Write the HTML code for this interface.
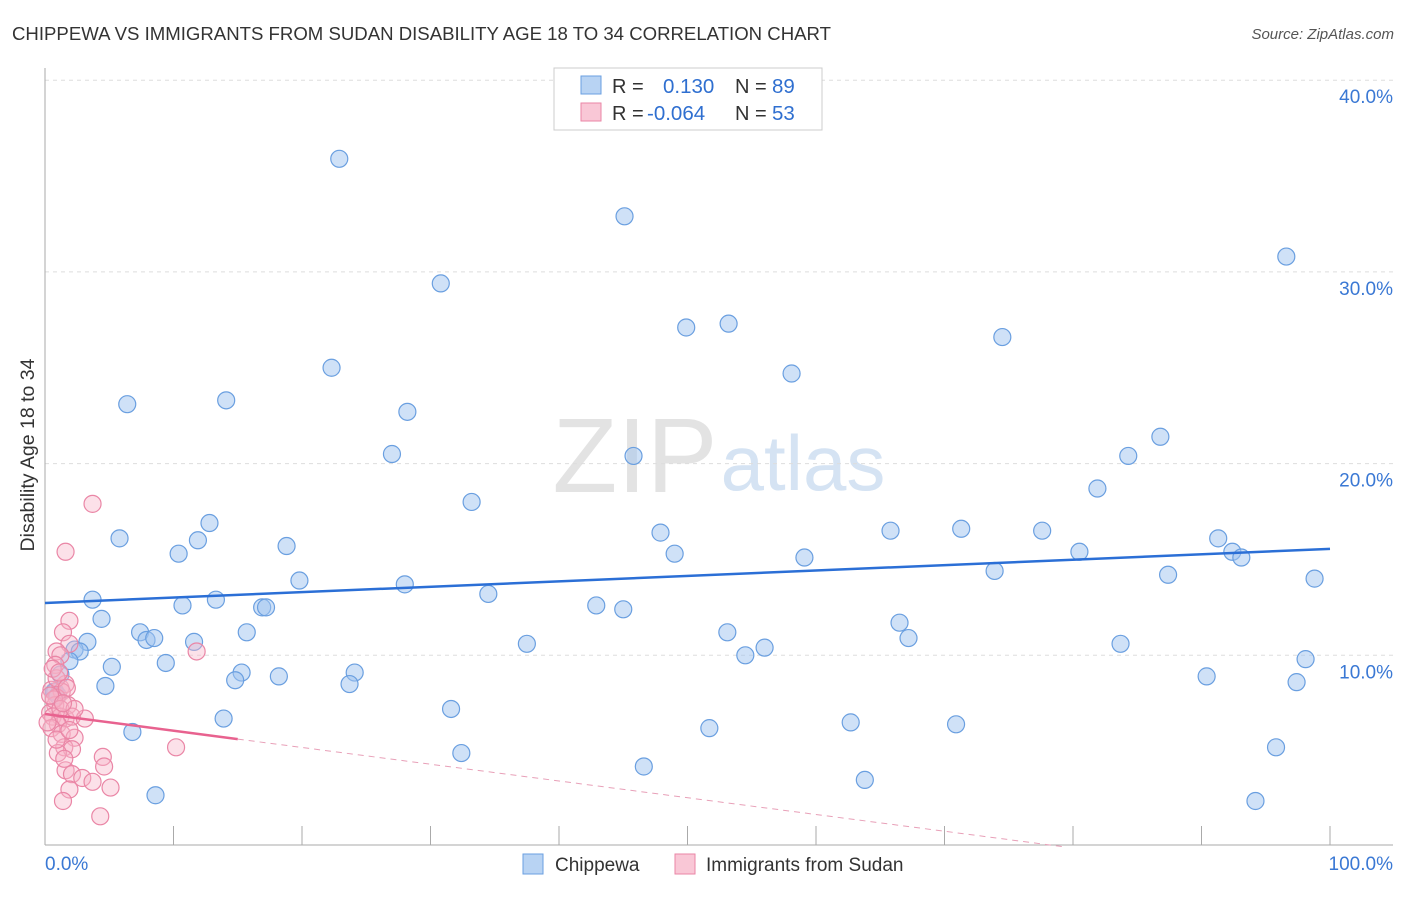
<!DOCTYPE html>
<html><head><meta charset="utf-8"><style>
body{margin:0;background:#fff;font-family:"Liberation Sans",sans-serif;}
svg text{font-family:"Liberation Sans",sans-serif;}
</style></head><body>
<svg id="c" width="1406" height="892">
<text x="12" y="40" font-size="18.6" fill="#333">CHIPPEWA VS IMMIGRANTS FROM SUDAN DISABILITY AGE 18 TO 34 CORRELATION CHART</text>
<text x="1394" y="39" font-size="15" fill="#555" font-style="italic" text-anchor="end">Source: ZipAtlas.com</text>
<text x="34" y="455" font-size="19.5" fill="#333" text-anchor="middle" transform="rotate(-90 34 455)">Disability Age 18 to 34</text>
<g><text x="635" y="492" font-size="106" fill="#e3e3e3" font-family="Liberation Serif" text-anchor="middle">ZIP</text><text x="803" y="490" font-size="78" fill="#d5e3f3" text-anchor="middle">atlas</text></g>
<g id="grid"></g><g id="axes"></g><g id="pts"></g><g id="lines"></g>
<g>
<rect x="554" y="68" width="268" height="62" fill="#fff" stroke="#ccc"/>
<rect x="581" y="76" width="20" height="18" fill="#b8d3f3" stroke="#6a9fe0"/>
<rect x="581" y="103" width="20" height="18" fill="#f9c7d6" stroke="#ea86a6"/>
<text x="612" y="93" font-size="20" fill="#333">R = </text><text x="663" y="93" font-size="20.5" fill="#2f6fd0">0.130</text>
<text x="735" y="93" font-size="20" fill="#333">N = </text><text x="772" y="93" font-size="20.5" fill="#2f6fd0">89</text>
<text x="612" y="120" font-size="20" fill="#333">R = </text><text x="647" y="120" font-size="20.5" fill="#2f6fd0">-0.064</text>
<text x="735" y="120" font-size="20" fill="#333">N = </text><text x="772" y="120" font-size="20.5" fill="#2f6fd0">53</text>
</g>
<g>
<rect x="523" y="854" width="20" height="20" fill="#b8d3f3" stroke="#6a9fe0"/>
<text x="555" y="871" font-size="19" fill="#333">Chippewa</text>
<rect x="675" y="854" width="20" height="20" fill="#f9c7d6" stroke="#ea86a6"/>
<text x="706" y="871" font-size="19" fill="#333">Immigrants from Sudan</text>
</g>
</svg>
<script>
const yTicks=[10,20,30,40];
const blueX=[22.9,45.1,96.6,30.8,49.9,53.2,74.5,22.3,58.1,6.4,14.1,28.2,27,45.8,86.8,84.3,81.9,33.2,12.8,5.8,11.9,10.4,18.8,47.9,65.8,71.3,77.6,91.3,92.4,93.1,49,59.1,80.5,19.8,28,87.4,73.9,98.8,3.7,13.3,34.5,42.9,45,10.7,16.9,17.2,4.4,7.4,7.9,8.5,11.6,15.7,53.1,66.5,67.2,3.3,2.3,2.7,37.5,83.7,54.5,56,98.1,1.9,5.2,9.4,1.2,15.3,24.1,14.8,18.2,23.7,4.7,90.4,97.4,0.8,13.9,31.6,62.7,51.7,70.9,6.8,32.4,46.6,63.8,95.8,8.6,94.2,0.7,1];
const blueY=[35.9,32.9,30.8,29.4,27.1,27.3,26.6,25,24.7,23.1,23.3,22.7,20.5,20.4,21.4,20.4,18.7,18,16.9,16.1,16,15.3,15.7,16.4,16.5,16.6,16.5,16.1,15.4,15.1,15.3,15.1,15.4,13.9,13.7,14.2,14.4,14,12.9,12.9,13.2,12.6,12.4,12.6,12.5,12.5,11.9,11.2,10.8,10.9,10.7,11.2,11.2,11.7,10.9,10.7,10.3,10.2,10.6,10.6,10.0,10.4,9.8,9.7,9.4,9.6,9.0,9.1,9.1,8.7,8.9,8.5,8.4,8.9,8.6,8.1,6.7,7.2,6.5,6.2,6.4,6,4.9,4.2,3.5,5.2,2.7,2.4,8.1,7.9];
const pinkX=[3.7,1.6,1.9,1.4,1.9,0.9,1.2,11.8,0.8,1.2,1.6,0.5,1.3,0.9,1.8,0.8,0.4,0.6,1.2,1.6,2.1,3.1,1,0.5,1.3,2.3,1.5,2.1,1,10.2,4.5,4.6,1.6,2.1,2.9,3.7,1.9,5.1,1.4,4.3,0.7,0.9,1.2,0.4,0.9,0.2,1.9,1.5,0.6,2.3,1.1,1.7,1.4];
const pinkY=[17.9,15.4,11.8,11.2,10.6,10.2,10.0,10.2,9.5,8.3,8.5,8.2,8.1,7.8,7.4,7.4,7.0,6.8,6.8,6.7,6.8,6.7,6.4,6.2,5.9,5.7,5.2,5.1,4.9,5.2,4.7,4.2,4.0,3.8,3.6,3.4,3,3.1,2.4,1.6,7.7,8.8,7.2,7.9,5.6,6.5,6.1,4.6,9.3,7.2,9.1,8.3,7.5];
const blueTrend=[12.73,15.55];
const pinkTrend=[6.94,-1.8];
const NS='http://www.w3.org/2000/svg';
const X=v=>45+v*12.85, Y=v=>847-v*19.17;
function mk(p,t,a){const e=document.createElementNS(NS,t);for(const k in a)e.setAttribute(k,a[k]);p.appendChild(e);return e;}
const grid=document.getElementById('grid'),axes=document.getElementById('axes');
yTicks.forEach(t=>{const l=mk(grid,'line',{x1:45,x2:1393,y1:Y(t),y2:Y(t),stroke:'#ddd','stroke-dasharray':'4,4'});


const tx=mk(axes,'text',{x:1393,y:Y(t)+23,'font-size':19,fill:'#3a78d4','text-anchor':'end'});tx.textContent=t.toFixed(1)+'%';

});
mk(axes,'line',{x1:45,x2:45,y1:68,y2:845,stroke:'#aaa'});
mk(axes,'line',{x1:45,x2:1393,y1:845,y2:845,stroke:'#aaa'});
for(let i=1;i<=10;i++){mk(axes,'line',{x1:X(i*10),x2:X(i*10),y1:826,y2:845,stroke:'#aaa'});}
const x0=mk(axes,'text',{x:45,y:870,'font-size':19,fill:'#3a78d4'});x0.textContent='0.0%';


const x1=mk(axes,'text',{x:1393,y:870,'font-size':19,fill:'#3a78d4','text-anchor':'end'});x1.textContent='100.0%';


const pts=document.getElementById('pts');
blueX.forEach((v,i)=>{const c=mk(pts,'circle',{cx:X(v),cy:Y(blueY[i]),r:8.5,fill:'rgba(160,195,240,0.5)',stroke:'#6a9fe0','stroke-width':1.2});

});
pinkX.forEach((v,i)=>{const c=mk(pts,'circle',{cx:X(v),cy:Y(pinkY[i]),r:8.5,fill:'rgba(248,180,200,0.4)',stroke:'#ea86a6','stroke-width':1.2});

});
const lines=document.getElementById('lines');
const bl=mk(lines,'line',{x1:X(0),y1:Y(blueTrend[0]),x2:X(100),y2:Y(blueTrend[1]),stroke:'#2b6fd6','stroke-width':2.5});


const ps=(pinkTrend[1]-pinkTrend[0])/100, pv=x=>pinkTrend[0]+ps*x;
const xz=Math.min(100,-pinkTrend[0]/ps);
const pl=mk(lines,'line',{x1:X(0),y1:Y(pv(0)),x2:X(15),y2:Y(pv(15)),stroke:'#e8628f','stroke-width':2.5});


const pd=mk(lines,'line',{x1:X(15),y1:Y(pv(15)),x2:X(xz),y2:Y(pv(xz)),stroke:'#e8a0b8','stroke-width':1,'stroke-dasharray':'6,5'});


</script>
</body></html>
